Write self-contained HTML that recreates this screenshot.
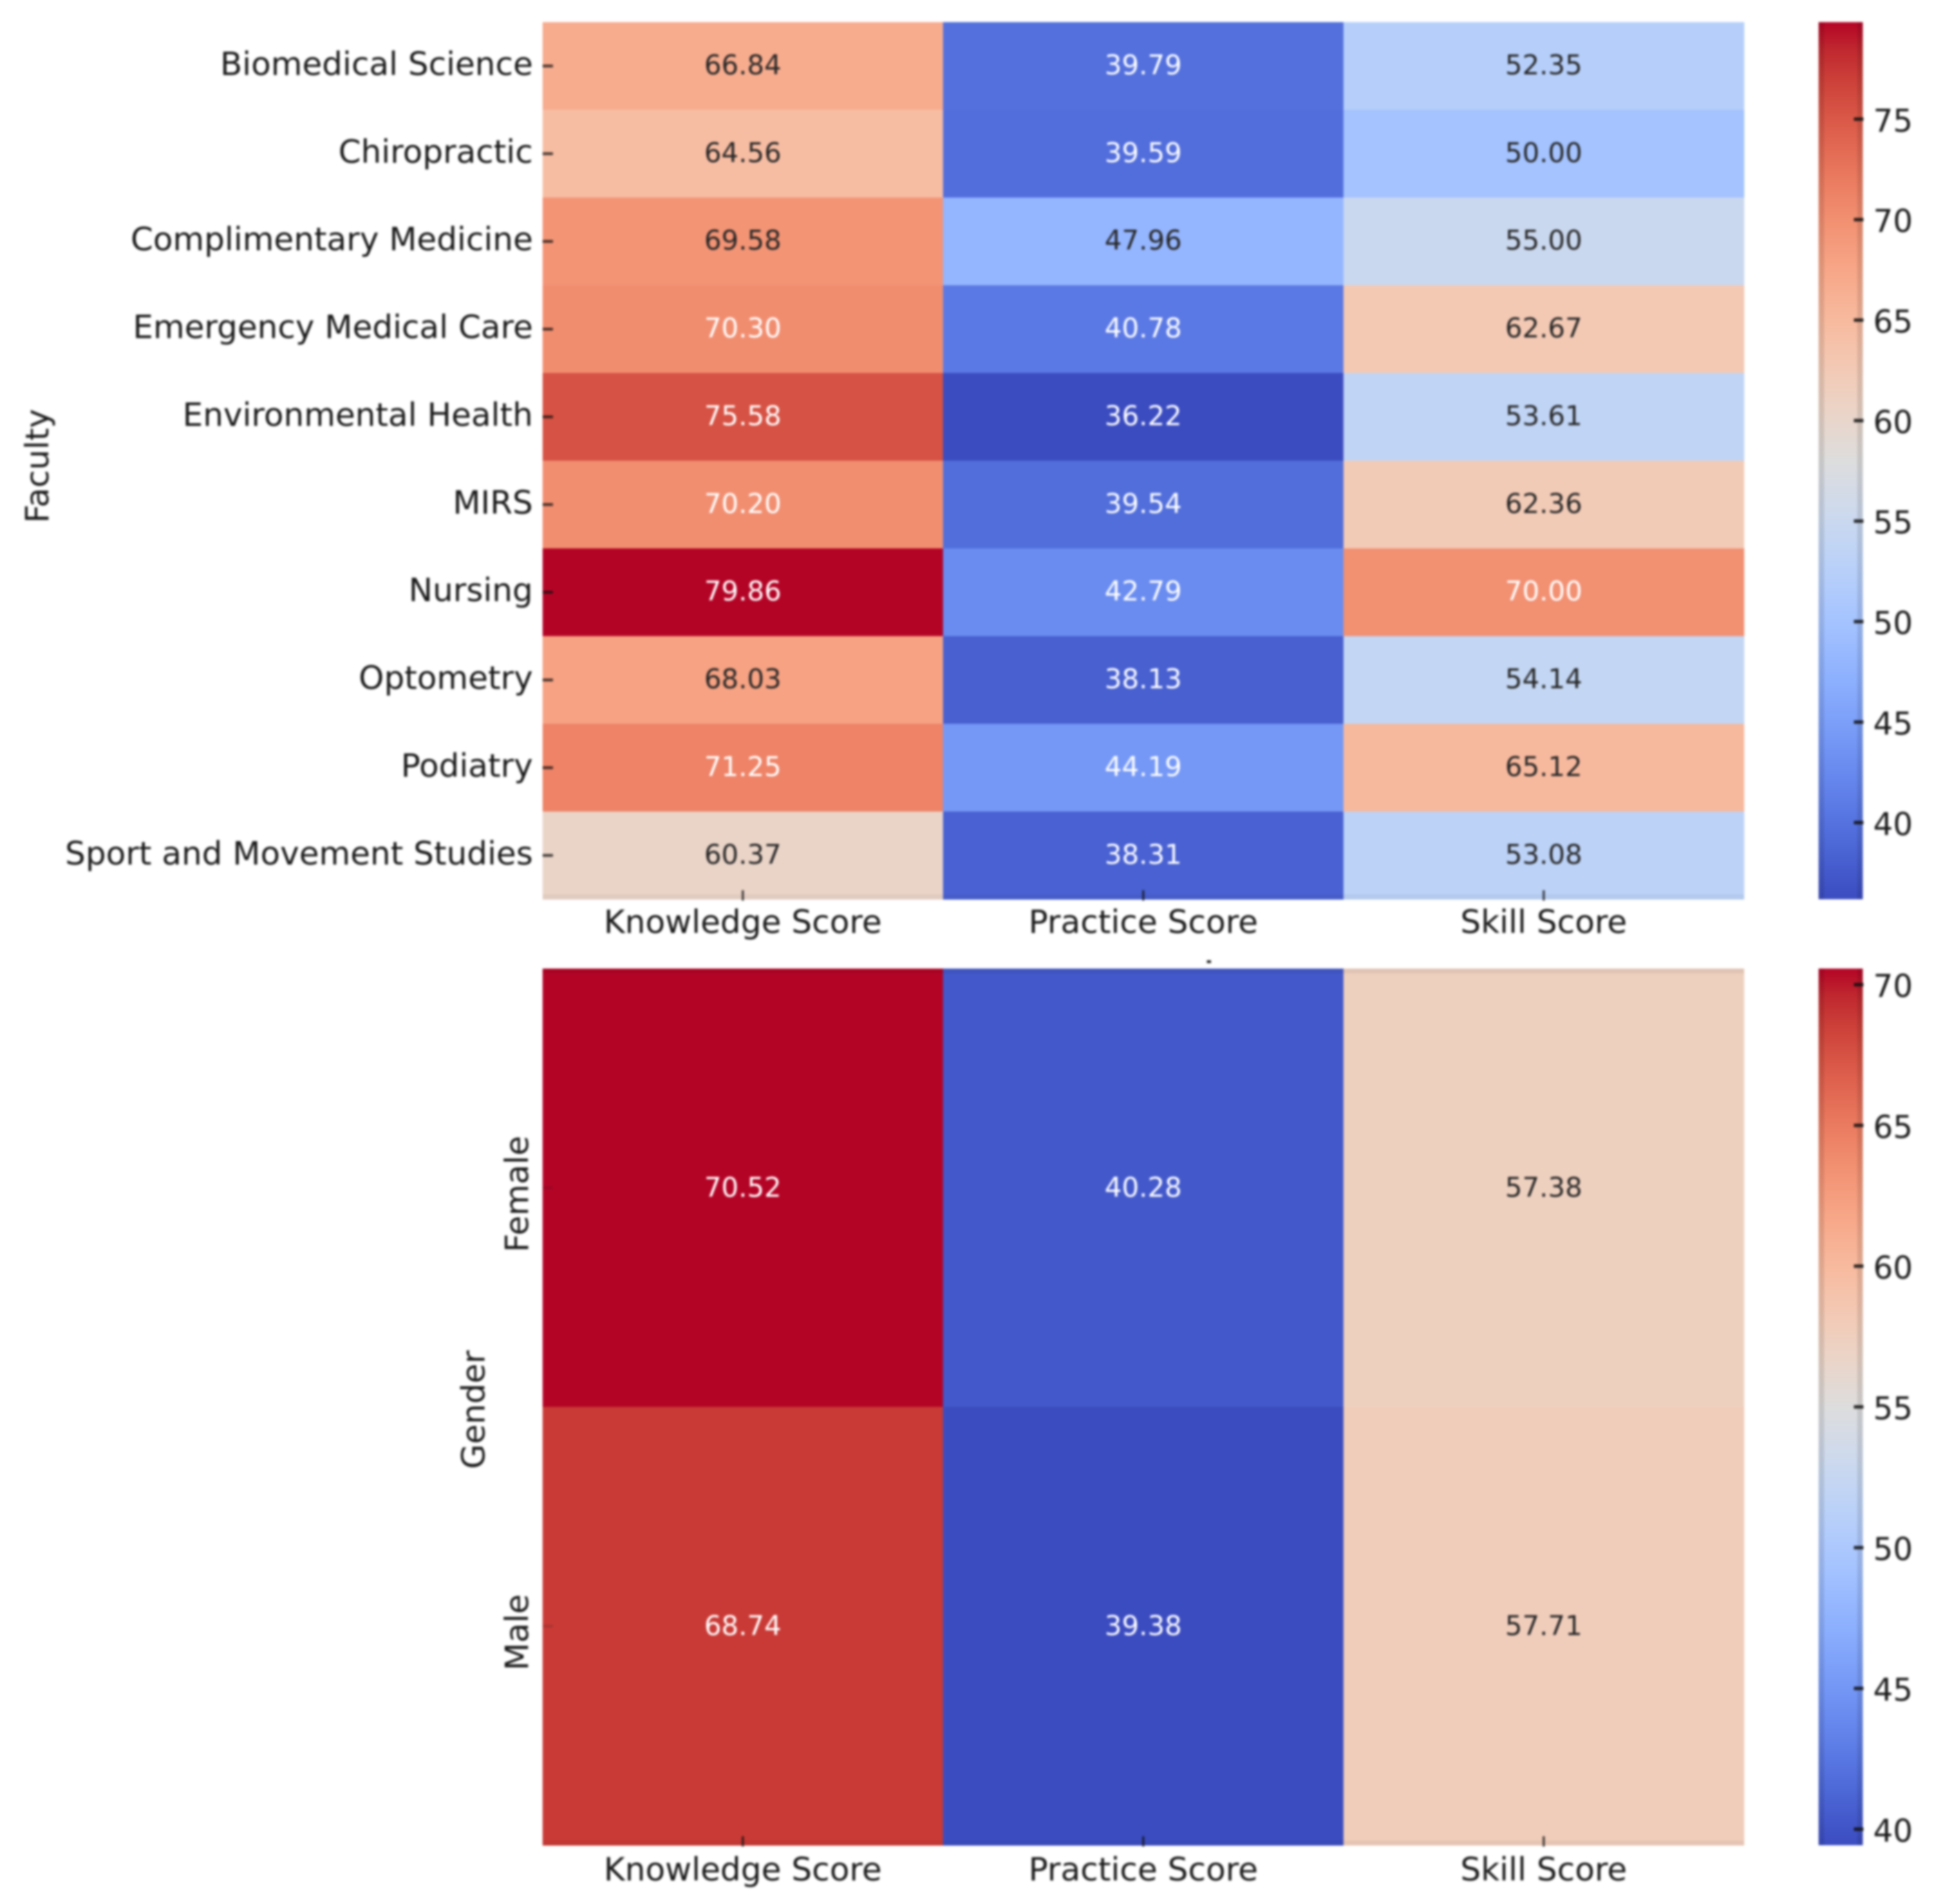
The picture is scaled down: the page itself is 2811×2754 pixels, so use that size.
<!DOCTYPE html>
<html lang="en">
<head>
<meta charset="utf-8">
<title>Scores by Faculty and Gender</title>
<style>
html,body{margin:0;padding:0;background:#fff;width:2811px;height:2754px;overflow:hidden}
svg{display:block}
text{font-family:"DejaVu Sans","Liberation Sans",sans-serif;fill:#1a1a1a}
#plot{filter:blur(1.5px)}
</style>
</head>
<body>
<svg id="chart" xmlns="http://www.w3.org/2000/svg" width="2811" height="2754" viewBox="0 0 2811 2754">
  <defs id="defs"></defs>
  <rect x="0" y="0" width="2811" height="2754" fill="#ffffff"/>
  <g id="plot"></g>
</svg>
<script>
const scoreColumns = ["Knowledge Score", "Practice Score", "Skill Score"];
const facultyRows = ["Biomedical Science", "Chiropractic", "Complimentary Medicine", "Emergency Medical Care", "Environmental Health", "MIRS", "Nursing", "Optometry", "Podiatry", "Sport and Movement Studies"];
const facultyKnowledge = [66.84, 64.56, 69.58, 70.30, 75.58, 70.20, 79.86, 68.03, 71.25, 60.37];
const facultyPractice = [39.79, 39.59, 47.96, 40.78, 36.22, 39.54, 42.79, 38.13, 44.19, 38.31];
const facultySkill = [52.35, 50.00, 55.00, 62.67, 53.61, 62.36, 70.00, 54.14, 65.12, 53.08];
const facultyTicks = [40, 45, 50, 55, 60, 65, 70, 75];
const genderRows = ["Female", "Male"];
const genderKnowledge = [70.52, 68.74];
const genderPractice = [40.28, 39.38];
const genderSkill = [57.38, 57.71];
const genderTicks = [40, 45, 50, 55, 60, 65, 70];

const coolwarmStops = ["3b4cc0","445acc","4d68d7","5775e1","6282ea","6c8ef1","779af7","82a5fb","8db0fe","98b9ff","a3c2ff","aec9fd","b8d0f9","c2d5f4","ccd9ee","d5dbe6","dddddd","e5d8d1","ecd3c5","f1ccb9","f5c4ad","f7bba0","f7b194","f7a687","f49a7b","f18d6f","ec7f63","e57058","de604d","d55042","cb3e38","c0282f","b40426"];

function rgbAt(t) {
  const p = Math.max(0, Math.min(1, t)) * (coolwarmStops.length - 1);
  const i = Math.min(coolwarmStops.length - 2, Math.floor(p));
  const f = p - i;
  const a = coolwarmStops[i], b = coolwarmStops[i + 1];
  return [0, 2, 4].map(k => {
    const x = parseInt(a.substr(k, 2), 16), y = parseInt(b.substr(k, 2), 16);
    return Math.round(x + (y - x) * f);
  });
}
function luminance(c) {
  const l = c.map(v => { v /= 255; return v <= 0.03928 ? v / 12.92 : Math.pow((v + 0.055) / 1.055, 2.4); });
  return 0.2126 * l[0] + 0.7152 * l[1] + 0.0722 * l[2];
}

const NS = "http://www.w3.org/2000/svg";
const plot = document.getElementById("plot");
const defs = document.getElementById("defs");
function mk(tag, attrs, parent) {
  const el = document.createElementNS(NS, tag);
  for (const k in attrs) el.setAttribute(k, attrs[k]);
  (parent || plot).appendChild(el);
  return el;
}

const LEFT = 785, RIGHT = 2523, CB_L = 2631, CB_R = 2695;

function drawPanel(cfg) {
  const g = mk("g", {});
  
  
  const all = cfg.series.flat();
  const vmin = Math.min.apply(null, all), vmax = Math.max.apply(null, all);
  const colW = (RIGHT - LEFT) / scoreColumns.length;
  const rowH = (cfg.bottom - cfg.top) / cfg.rows.length;
  const xScale = c => LEFT + c * colW;
  const yScale = r => cfg.top + r * rowH;
  const norm = v => (v - vmin) / (vmax - vmin);
  const cbY = v => cfg.top + (vmax - v) / (vmax - vmin) * (cfg.bottom - cfg.top);

  cfg.series.forEach((col, c) => {
    col.forEach((v, r) => {
      const rgb = rgbAt(norm(v));
      const cell = mk("rect", { x: xScale(c), y: yScale(r), width: colW + 0.5, height: rowH + 0.5, fill: "rgb(" + rgb.join(",") + ")" }, g);
      
      
    });
  });
  /* compression rims of the source image */
  const rim = mk("rect", { x: LEFT, y: cfg.top, width: RIGHT - LEFT, height: 7, fill: "#000", opacity: cfg.key === "faculty" ? 0 : 0.06 }, g);
  
  
  const rim2 = mk("rect", { x: LEFT, y: cfg.bottom - 7, width: RIGHT - LEFT, height: 7, fill: "#000", opacity: 0.04 }, g);
  
  

  cfg.series.forEach((col, c) => {
    col.forEach((v, r) => {
      const rgb = rgbAt(norm(v));
      const t = mk("text", { x: xScale(c) + colW / 2, y: yScale(r) + rowH / 2 + cfg.valueShift, "font-size": 39, "text-anchor": "middle" }, g);
      
      
      t.style.fill = luminance(rgb) > 0.408 ? "#262626" : "#ffffff";
      t.textContent = v.toFixed(2);
    });
  });

  cfg.rows.forEach((name, r) => {
    const yc = yScale(r) + rowH / 2;
    const tick = mk("rect", { x: LEFT, y: yc - 2, width: 15, height: 4, fill: "#111", opacity: cfg.key === "faculty" ? 0.75 : 0.15 }, g);
    
    
    if (cfg.key === "faculty") {
      const t = mk("text", { x: 771, y: yc + 13, "font-size": 46.6, "text-anchor": "end" }, g);
      
      
      t.textContent = name;
    } else {
      const cy = yc + 9;
      const t = mk("text", { x: 748, y: cy, "font-size": 46.6, "text-anchor": "middle", "dominant-baseline": "central", transform: "rotate(-90 748 " + cy + ")" }, g);
      
      
      t.textContent = name;
    }
  });

  scoreColumns.forEach((name, c) => {
    const xc = xScale(c) + colW / 2;
    const tick = mk("rect", { x: xc - 1.5, y: cfg.bottom - 13, width: 3, height: 15, fill: "#111", opacity: 0.8 }, g);
    
    
    const t = mk("text", { x: xc, y: cfg.bottom + cfg.xLabelShift, "font-size": 46.7, "text-anchor": "middle" }, g);
    
    
    t.textContent = name;
  });

  const ylab = mk("text", { x: cfg.titleX, y: cfg.titleY, "font-size": 46.6, "text-anchor": "middle", "dominant-baseline": "central", transform: "rotate(-90 " + cfg.titleX + " " + cfg.titleY + ")" }, g);
  
  
  ylab.textContent = cfg.title;

  /* colorbar */
  const gradId = "grad-" + cfg.key;
  const grad = mk("linearGradient", { id: gradId, x1: 0, y1: 1, x2: 0, y2: 0 }, defs);
  coolwarmStops.forEach((hex, i) => {
    mk("stop", { offset: i / (coolwarmStops.length - 1), "stop-color": "#" + hex }, grad);
  });
  const bar = mk("rect", { x: CB_L, y: cfg.top, width: CB_R - CB_L, height: cfg.bottom - cfg.top, fill: "url(#" + gradId + ")" }, g);
  
  
  const edgeL = mk("rect", { x: CB_L, y: cfg.top, width: 8, height: cfg.bottom - cfg.top, fill: "#000", opacity: 0.1 }, g);
  
  
  const edgeR = mk("rect", { x: CB_R - 8, y: cfg.top, width: 8, height: cfg.bottom - cfg.top, fill: "#000", opacity: 0.1 }, g);
  
  

  cfg.ticks.forEach(v => {
    const y = cbY(v) + cfg.tickShift;
    const tick = mk("rect", { x: CB_R - 13, y: y - 2.5, width: 14, height: 5, fill: "#111", opacity: 0.85 }, g);
    
    
    const t = mk("text", { x: 2710, y: y + 18, "font-size": 45 }, g);
    
    
    t.textContent = v;
  });
}

drawPanel({
  key: "faculty", title: "Faculty", titleX: 54, titleY: 674,
  rows: facultyRows, series: [facultyKnowledge, facultyPractice, facultySkill],
  ticks: facultyTicks, top: 32, bottom: 1300.7, valueShift: 12, xLabelShift: 49, tickShift: -1
});
drawPanel({
  key: "gender", title: "Gender", titleX: 685, titleY: 2039,
  rows: genderRows, series: [genderKnowledge, genderPractice, genderSkill],
  ticks: genderTicks, top: 1401, bottom: 2669, valueShift: 13, xLabelShift: 51, tickShift: 2
});
const dot = mk("rect", { x: 1746, y: 1389, width: 6, height: 4, fill: "#222" });


</script>
</body>
</html>
